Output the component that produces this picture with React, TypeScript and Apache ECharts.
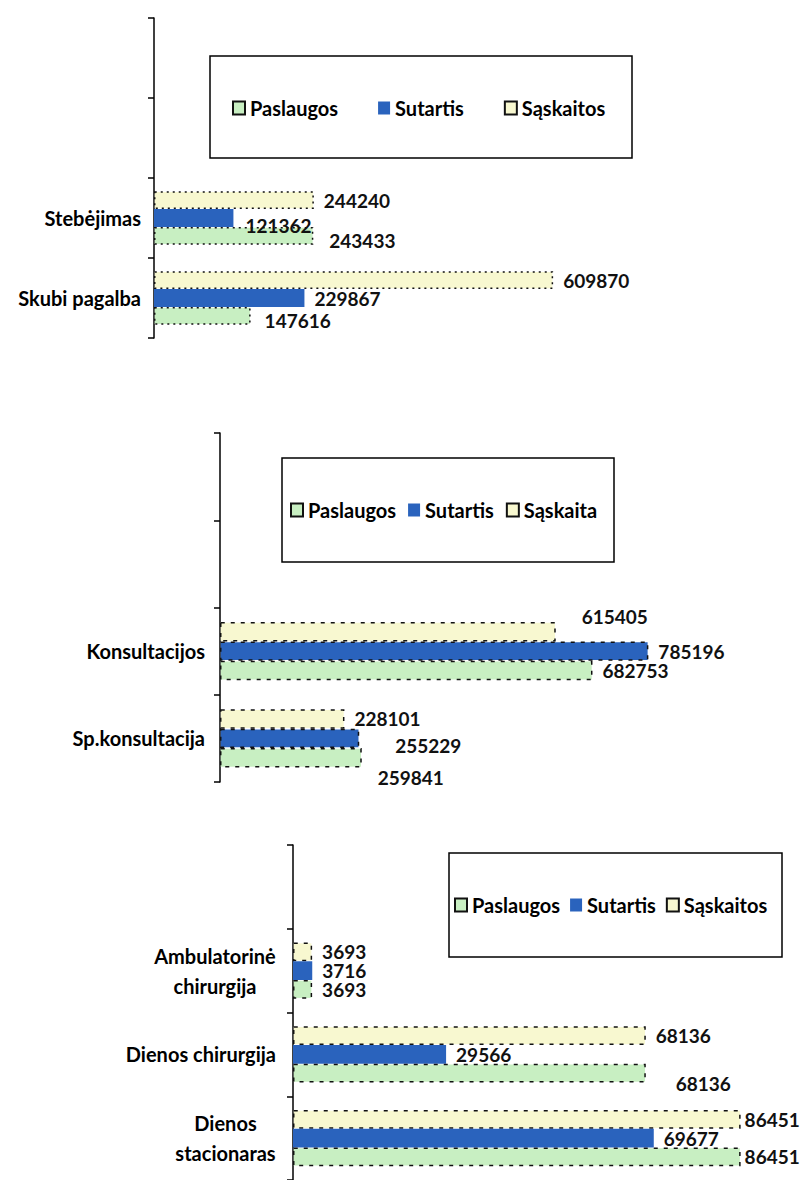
import React, { useEffect, useRef } from "react";
import * as echarts from "echarts";

const FONT = "Lato, 'Liberation Sans', sans-serif";
const FS = 20;
const NUM_FS = 19;

// Chart 1 (categories listed bottom to top)
const cats1 = ["Skubi pagalba", "Stebėjimas", " ", "  "];
const legend1 = ["Paslaugos", "Sutartis", "Sąskaitos"];
const paslaugos1 = [147616, 243433];
const sutartis1 = [229867, 121362];
const saskaitos1 = [609870, 244240];

// Chart 2
const cats2 = ["Sp.konsultacija", "Konsultacijos", " ", "  "];
const legend2 = ["Paslaugos", "Sutartis", "Sąskaita"];
const paslaugos2 = [259841, 682753];
const sutartis2 = [255229, 785196];
const saskaita2 = [228101, 615405];

// Chart 3
const cats3 = ["Dienos\nstacionaras", "Dienos chirurgija", "Ambulatorinė\nchirurgija", " "];
const legend3 = ["Paslaugos", "Sutartis", "Sąskaitos"];
const paslaugos3 = [86451, 68136, 3693];
const sutartis3 = [69677, 29566, 3716];
const saskaitos3 = [86451, 68136, 3693];

const GREEN = "#c8efc2";
const BLUE = "#2a63bd";
const YELLOW = "#f8f8d0";
const INK = "#111";

// label placement tweaks (panel-seriesInLegendOrder-categoryIndex -> [dx, dy])
const labelNudges: Record<string, number[]> = {
  "0-1-1": [2, 7],
  "0-0-1": [6, 5],
  "0-0-0": [4, 5],
  "1-2-1": [16, -15],
  "1-1-0": [26, 7],
  "1-0-0": [6, 20],
  "2-0-1": [20, 10],
  "2-0-0": [-6, 0],
  "2-2-0": [-6, 0],
};

function measure(text: string): number {
  const c = document.createElement("canvas").getContext("2d");
  if (!c) return text.length * 10;
  c.font = `bold ${FS}px ${FONT}`;
  return c.measureText(text).width;
}

type Panel = {
  idx: number;
  cats: string[];
  names: string[];
  values: number[][];
  grid: { left: number; top: number; width: number; height: number };
  xMax: number;
  dash: number[];
  blueBorder: boolean;
  margin: number;
  legend: { left: number; top: number; itemGap: number };
  box: { x: number; y: number; width: number; height: number };
};

function buildOption() {
  const panels: Panel[] = [
    {
      idx: 0,
      cats: cats1,
      names: legend1,
      values: [paslaugos1, sutartis1, saskaitos1],
      grid: { left: 154, top: 18, width: 589, height: 320 },
      xMax: 900000,
      dash: [2, 4],
      blueBorder: false,
      margin: 13,
      legend: { left: 232, top: 98, itemGap: 40 },
      box: { x: 210, y: 56, width: 422, height: 102 },
    },
    {
      idx: 1,
      cats: cats2,
      names: legend2,
      values: [paslaugos2, sutartis2, saskaita2],
      grid: { left: 220, top: 433, width: 491, height: 349 },
      xMax: 900000,
      dash: [4, 6],
      blueBorder: true,
      margin: 15,
      legend: { left: 290, top: 500, itemGap: 12 },
      box: { x: 282, y: 458, width: 332, height: 104 },
    },
    {
      idx: 2,
      cats: cats3,
      names: legend3,
      values: [paslaugos3, sutartis3, saskaitos3],
      grid: { left: 293, top: 845, width: 466, height: 340 },
      xMax: 90000,
      dash: [4, 6],
      blueBorder: false,
      margin: 17,
      legend: { left: 454, top: 895, itemGap: 10 },
      box: { x: 449, y: 853, width: 333, height: 104 },
    },
  ];

  const grid: any[] = [];
  const xAxis: any[] = [];
  const yAxis: any[] = [];
  const series: any[] = [];
  const legend: any[] = [];
  const graphic: any[] = [];

  panels.forEach((p) => {
    grid.push({ ...p.grid, containLabel: false });
    xAxis.push({
      type: "value",
      gridIndex: p.idx,
      min: 0,
      max: p.xMax,
      show: false,
    });
    const rich: Record<string, any> = {};
    p.cats.forEach((c, i) => {
      if (c.includes("\n")) {
        const w = Math.max(...c.split("\n").map(measure));
        rich["m" + i] = {
          width: Math.ceil(w),
          align: "center",
          fontSize: FS,
          fontWeight: "bold",
          fontFamily: FONT,
          color: "#000",
          lineHeight: 30,
        };
      }
    });
    yAxis.push({
      type: "category",
      gridIndex: p.idx,
      data: p.cats,
      axisLine: { show: true, lineStyle: { color: "#000", width: 1.5 } },
      axisTick: { show: true, length: 6, lineStyle: { color: "#000", width: 1.5 } },
      splitLine: { show: false },
      axisLabel: {
        fontSize: FS,
        fontWeight: "bold",
        fontFamily: FONT,
        color: "#000",
        margin: p.margin,
        lineHeight: 30,
        formatter: (v: string, i: number) =>
          v.includes("\n")
            ? v
                .split("\n")
                .map((l) => `{m${i}|${l}}`)
                .join("\n")
            : v,
        rich,
      },
    });
    const styles = [
      { color: GREEN, borderColor: INK, borderWidth: 1.5, borderType: p.dash },
      p.blueBorder
        ? { color: BLUE, borderColor: INK, borderWidth: 1.5, borderType: p.dash }
        : { color: BLUE },
      { color: YELLOW, borderColor: INK, borderWidth: 1.5, borderType: p.dash },
    ];
    // ECharts places the first series at the top of each group; the reference
    // shows Sąskaitos on top, so add series in reverse legend order.
    [2, 1, 0].forEach((s) => {
      const name = p.names[s];
      series.push({
        type: "bar",
        name,
        xAxisIndex: p.idx,
        yAxisIndex: p.idx,
        data: p.values[s].map((v, i) => {
          const n = labelNudges[`${p.idx}-${s}-${i}`];
          return n ? { value: v, label: { offset: n } } : v;
        }),
        barGap: "0%",
        barCategoryGap: "33%",
        itemStyle: styles[s],
        label: {
          show: true,
          position: "right",
          distance: 10,
          fontSize: NUM_FS,
          lineHeight: 17,
          fontWeight: "bold",
          fontFamily: FONT,
          color: INK,
        },
      });
    });
    legend.push({
      left: p.legend.left,
      top: p.legend.top,
      itemGap: p.legend.itemGap,
      itemWidth: 12,
      itemHeight: 13,
      padding: 0,
      icon: "rect",
      selectedMode: false,
      data: p.names,
      textStyle: {
        fontSize: FS,
        fontWeight: "bold",
        fontFamily: FONT,
        color: "#000",
      },
    });
    graphic.push({
      type: "rect",
      shape: p.box,
      z: 0,
      style: { fill: "transparent", stroke: "#000", lineWidth: 1.5 },
    });
  });

  return {
    animation: false,
    backgroundColor: "#fff",
    grid,
    xAxis,
    yAxis,
    series,
    legend,
    graphic,
  };
}

export default function App() {
  const ref = useRef<HTMLDivElement>(null);
  useEffect(() => {
    if (!ref.current) return;
    const chart = echarts.init(ref.current, undefined, { renderer: "svg" });
    chart.setOption(buildOption() as any);
    return () => chart.dispose();
  }, []);
  return (
    <div
      ref={ref}
      style={{ position: "absolute", left: 0, top: 0, width: 800, height: 1180, background: "#fff" }}
    />
  );
}
